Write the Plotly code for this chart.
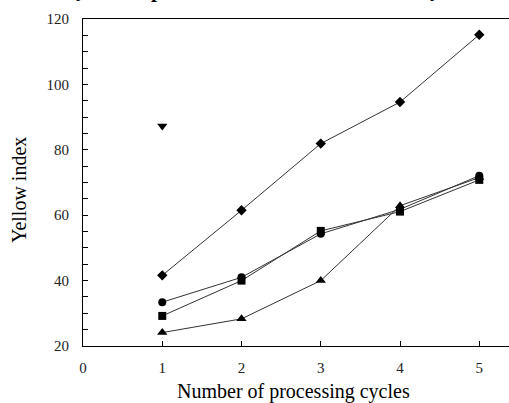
import plotly.graph_objects as go

cycles = [1, 2, 3, 4, 5]
diamond_vals = [41.6, 61.5, 81.9, 94.6, 115.2]
circle_vals = [33.4, 41.0, 54.3, 61.8, 72.1]
square_vals = [29.2, 40.0, 55.2, 61.1, 70.8]
triangle_vals = [24.1, 28.3, 40.0, 62.9, 71.5]
single_x = [1]
single_vals = [87.3]

x_ticks = [0, 1, 2, 3, 4, 5]
y_ticks = [20, 40, 60, 80, 100, 120]

FONT = "Liberation Serif"
LINE = "#333333"

fig = go.Figure()

def add(vals, symbol, size):
    fig.add_trace(go.Scatter(
        x=cycles, y=vals, mode="lines+markers",
        line=dict(color=LINE, width=1),
        marker=dict(symbol=symbol, size=size, color="black"),
        showlegend=False, cliponaxis=False))

add(triangle_vals, "triangle-up", 9)
add(diamond_vals, "diamond", 8)
add(circle_vals, "circle", 8)
add(square_vals, "square", 8)

fig.add_trace(go.Scatter(
    x=single_x, y=single_vals, mode="markers",
    marker=dict(symbol="triangle-down", size=9, color="black"),
    showlegend=False))

fig.update_layout(
    width=509, height=403,
    margin=dict(l=83, r=0, t=19, b=57),
    paper_bgcolor="white", plot_bgcolor="white",
    font=dict(family=FONT, color="black"),
    xaxis=dict(
        range=[0, 5.375], tickvals=x_ticks, ticktext=[str(v) for v in x_ticks],
        ticks="inside", ticklen=5, tickcolor="black",
        showline=True, linecolor="black", linewidth=1.2, mirror=True,
        showgrid=False, zeroline=False,
        tickfont=dict(family=FONT, size=15, color="#222"),
        ticklabelstandoff=8,
    ),
    yaxis=dict(
        range=[20, 120], tickvals=y_ticks, ticktext=[str(v) for v in y_ticks],
        ticks="inside", ticklen=5, tickcolor="black",
        minor=dict(dtick=5, tick0=0, ticks="inside", ticklen=5, tickcolor="black", showgrid=False),
        showline=True, linecolor="black", linewidth=1.2, mirror=False,
        showgrid=False, zeroline=False,
        tickfont=dict(family=FONT, size=15, color="#222"),
        ticklabelstandoff=10,
    ),
    annotations=[
        dict(text="Number of processing cycles", xref="paper", yref="paper",
             x=(293.5 - 83) / 426, y=-(391 - 346) / 327, xanchor="center", yanchor="middle",
             showarrow=False, font=dict(family=FONT, size=20, color="black")),
        dict(text="Yellow index", xref="paper", yref="paper",
             x=-(83 - 19) / 426, y=(346 - 190) / 327, xanchor="center", yanchor="middle",
             textangle=-90, showarrow=False, font=dict(family=FONT, size=20, color="black")),
        dict(text="<b>y</b>", xref="paper", yref="paper", x=(81 - 83) / 426, y=(346 - 2) / 327,
             xanchor="center", yanchor="bottom", showarrow=False, borderpad=0,
             font=dict(family=FONT, size=21, color="black")),
        dict(text="<b>p</b>", xref="paper", yref="paper", x=(157 - 83) / 426, y=(346 - 3) / 327,
             xanchor="center", yanchor="bottom", showarrow=False, borderpad=0,
             font=dict(family=FONT, size=21, color="black")),
        dict(text="<b>y</b>", xref="paper", yref="paper", x=(435 - 83) / 426, y=(346 - 2) / 327,
             xanchor="center", yanchor="bottom", showarrow=False, borderpad=0,
             font=dict(family=FONT, size=21, color="black")),
    ],
)

fig.write_html("out.html", config={"displayModeBar": False},
               post_script="document.body.style.margin='0px';document.body.style.overflow='hidden';")
